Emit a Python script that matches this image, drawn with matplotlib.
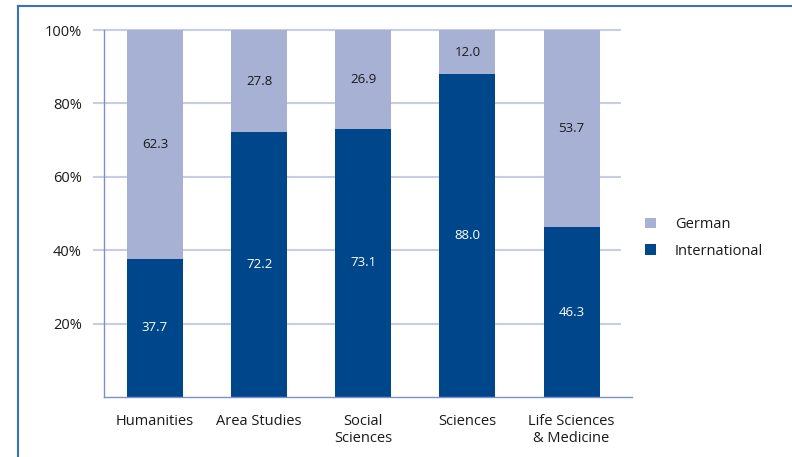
import matplotlib
matplotlib.use("Agg")
import matplotlib.pyplot as plt
from matplotlib.patches import Patch
from matplotlib.lines import Line2D

categories = ["Humanities", "Area Studies", "Social\nSciences", "Sciences", "Life Sciences\n& Medicine"]
international = [37.7, 72.2, 73.1, 88.0, 46.3]
german = [62.3, 27.8, 26.9, 12.0, 53.7]
y_ticks = [20, 40, 60, 80, 100]
y_tick_labels = ["20%", "40%", "60%", "80%", "100%"]

c_ger = "#a7b1d4"
c_int = "#00468b"
c_grid = "#c9cde4"
c_spine = "#7f90c6"
c_frame = "#3a70bd"
c_text = "#1a1a1a"

plt.rcParams["font.family"] = ["Open Sans", "DejaVu Sans"]

fig = plt.figure(figsize=(7.92, 4.57), dpi=100)
ax = fig.add_axes([104/792, 60/457, (632-104)/792, (397-30)/457])

x = list(range(len(categories)))
w = 56/104
ax.hlines(y_ticks, -0.6, 4.47, color=c_grid, lw=1.5, zorder=0, clip_on=False)
ax.bar(x, international, width=w, color=c_int, zorder=2)
ax.bar(x, german, width=w, bottom=international, color=c_ger, zorder=2)

for i in x:
    ax.text(i, international[i]/2, f"{international[i]:.1f}", ha="center", va="center",
            color="white", fontsize=9.5)
    ax.text(i, international[i] + german[i]/2, f"{german[i]:.1f}", ha="center", va="center",
            color=c_text, fontsize=9.5)

ax.set_xlim(-0.49, 4.58)
ax.set_ylim(0, 100)
ax.set_yticks(y_ticks)
ax.set_yticklabels(y_tick_labels, fontsize=10.5, color=c_text)
ax.tick_params(axis="y", length=0, pad=16)
ax.set_xticks(x)
ax.set_xticklabels(categories, fontsize=10.5, color=c_text, va="top", linespacing=1.2)
ax.tick_params(axis="x", length=0, pad=12)

for s in ["top", "right"]:
    ax.spines[s].set_visible(False)
ax.spines["left"].set_color(c_spine)
ax.spines["bottom"].set_color(c_spine)
ax.spines["left"].set_linewidth(1)
ax.spines["bottom"].set_linewidth(1)

handles = [Patch(facecolor=c_ger, edgecolor="none"), Patch(facecolor=c_int, edgecolor="none")]
fig.legend(handles, ["German", "International"], loc="center left",
           bbox_to_anchor=(632/792, 1 - 238/457), frameon=False, fontsize=10.5,
           handlelength=0.75, handleheight=0.75, handletextpad=1.3, labelspacing=0.8,
           labelcolor=c_text)

# outer frame lines
fig.add_artist(Line2D([18/792, 18/792], [0, 1 - 6/457], transform=fig.transFigure,
                      color=c_frame, lw=1.5))
fig.add_artist(Line2D([18/792, 1], [1 - 6/457, 1 - 6/457], transform=fig.transFigure,
                      color=c_frame, lw=1.5))

fig.savefig("out.png", dpi=100)
